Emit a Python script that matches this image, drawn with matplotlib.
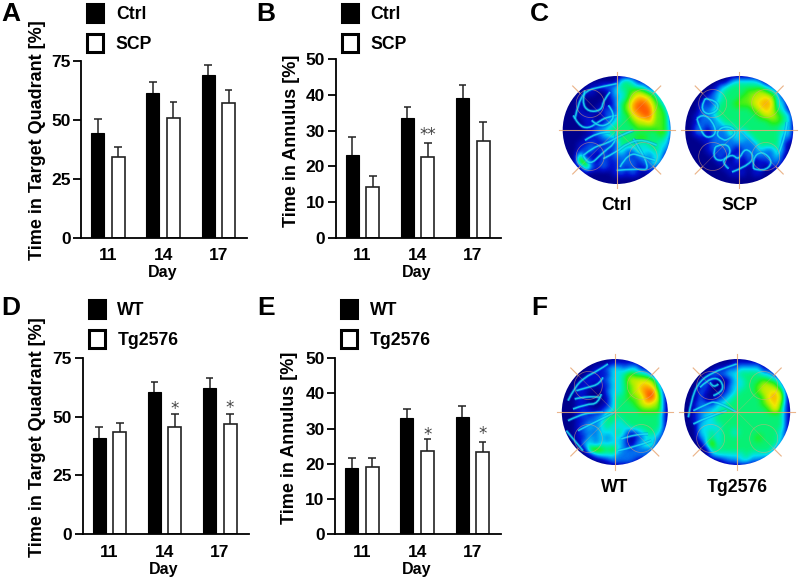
import matplotlib
matplotlib.use("Agg")
import matplotlib.pyplot as plt
import numpy as np
from matplotlib.colors import LinearSegmentedColormap
from matplotlib.patches import Circle, Patch, PathPatch
from matplotlib.path import Path

plt.rcParams['font.family'] = ['Liberation Sans', 'DejaVu Sans']

days = ['11', '14', '17']

a_ctrl = [44.4, 61.6, 69.0]
a_ctrl_top = [50.3, 66.3, 73.5]
a_scp = [34.4, 50.8, 57.0]
a_scp_top = [38.4, 57.7, 62.5]

b_ctrl = [23.3, 33.5, 39.0]
b_ctrl_top = [28.3, 36.7, 42.7]
b_scp = [14.2, 22.7, 27.0]
b_scp_top = [17.3, 26.5, 32.3]

d_wt = [40.9, 60.3, 62.2]
d_wt_top = [45.4, 64.5, 66.2]
d_tg = [43.4, 45.7, 46.7]
d_tg_top = [47.1, 50.9, 51.3]

e_wt = [18.8, 32.9, 33.4]
e_wt_top = [21.6, 35.6, 36.4]
e_tg = [19.2, 23.5, 23.2]
e_tg_top = [21.6, 26.9, 26.3]

# occupancy heat maps, one digit per cell (0 = none, 9 = most)
heat_ctrl = [
    "00000000000000000000",
    "00000000003431100000",
    "00000112224443311000",
    "00001100133456543210",
    "00010000123467764310",
    "00010001024578875420",
    "00010011214578885530",
    "00011101224467885540",
    "00001101234456675540",
    "00001122344445555541",
    "00000123444444444541",
    "00001112234445544431",
    "00011211214443344330",
    "00012212124224334320",
    "00050102122212323300",
    "00065112112221224200",
    "00005212112121122000",
    "00000000012121010000",
    "00000000000000000000",
    "00000000000000000000",
]
heat_scp = [
    "00000000000000000000",
    "00000000233332000000",
    "00000023444444320000",
    "00000234444556543000",
    "00002234445566763200",
    "00021244455567773300",
    "00022344444456764310",
    "00122344444445665430",
    "00122234444444455430",
    "00221323344444444330",
    "00220222432444444330",
    "00011222233244444220",
    "00001222222224444200",
    "00001212202223224200",
    "00000121021222223100",
    "00000011020201122100",
    "00000001101011011000",
    "00000000111011000000",
    "00000000000000000000",
    "00000000000000000000",
]
heat_wt = [
    "00000000000000000000",
    "00000000011111000000",
    "00000011233233110000",
    "00000111133454431000",
    "00001111233466665200",
    "00011101133456776310",
    "00011000233456788410",
    "00011000134455688510",
    "00011000134445676510",
    "00011101234444555510",
    "00012122444444444410",
    "00011223443444444410",
    "00012323433344444410",
    "00012223334312344310",
    "00011323233201233210",
    "00003323333202343100",
    "00000565453222222100",
    "00000023332222221000",
    "00000000122221000000",
    "00000000000000000000",
]
heat_tg = [
    "00000000000000000000",
    "00000000011111000000",
    "00000011223333110000",
    "00000222334444331000",
    "00002100133444544200",
    "00012000233445665310",
    "00021001234445667510",
    "00020012344444577610",
    "00122133444444567510",
    "00122334444444457410",
    "00123344444444444410",
    "00123344444444444410",
    "00033334444444444410",
    "00033434434444444310",
    "00023434444445444310",
    "00003634444444444200",
    "00000444444444442100",
    "00000233333433331000",
    "00000001223322100000",
    "00000000000000000000",
]

# swim traces (enlarged-crop units, three per pixel)
trails_ctrl = [
    [(45, 140), (55, 90), (80, 55), (120, 45), (170, 35)],
    [(75, 55), (65, 90), (85, 120), (125, 115), (130, 85), (150, 60)],
    [(40, 130), (55, 160), (85, 170), (115, 150), (140, 135), (170, 130)],
    [(145, 100), (165, 125), (150, 155), (115, 165), (95, 145)],
    [(70, 250), (85, 285), (130, 240), (170, 210), (170, 175)],
    [(70, 250), (100, 225), (140, 215), (180, 190), (220, 175)],
    [(75, 205), (110, 180), (150, 180)],
    [(170, 295), (230, 290), (270, 295), (240, 230), (220, 200)],
    [(130, 260), (170, 240), (200, 215), (250, 200), (290, 220)],
    [(180, 285), (205, 240), (250, 255), (285, 265)],
]
trails_scp = [
    [(45, 140), (55, 175), (75, 200), (105, 185), (90, 145), (60, 125), (45, 140)],
    [(70, 80), (105, 85), (110, 115), (75, 130), (55, 105), (70, 80)],
    [(100, 225), (130, 210), (150, 240), (120, 270), (90, 255), (100, 225)],
    [(140, 290), (115, 270), (150, 245), (170, 265), (190, 225), (220, 255), (190, 285), (150, 300)],
    [(215, 290), (245, 300), (275, 270), (240, 235), (210, 260), (215, 290)],
    [(130, 205), (165, 190), (150, 165), (115, 165), (100, 195), (130, 205)],
    [(290, 245), (312, 190), (315, 150)],
]
trails_wt = [
    [(30, 140), (50, 100), (80, 70), (120, 50), (150, 30)],
    [(55, 110), (90, 100), (125, 90), (135, 70)],
    [(50, 135), (90, 125), (125, 130)],
    [(45, 165), (85, 150), (120, 150), (130, 120)],
    [(30, 200), (60, 185), (100, 175), (135, 175)],
    [(25, 230), (50, 260), (75, 290)],
    [(60, 230), (90, 215), (120, 200), (170, 175)],
    [(180, 290), (230, 280), (280, 260)],
    [(190, 255), (230, 240), (270, 240)],
]
trails_tg = [
    [(25, 190), (35, 130), (60, 80), (100, 55), (140, 40), (170, 30)],
    [(60, 100), (80, 80), (110, 70), (130, 90), (125, 115), (100, 125)],
    [(90, 85), (100, 105), (115, 90)],
    [(40, 170), (80, 150), (110, 140), (170, 175)],
    [(40, 210), (90, 185), (140, 170)],
]

W, H = 800, 579
fig = plt.figure(figsize=(W / 100, H / 100), dpi=100)


def px_axes(left, top, right, bottom, **kw):
    return fig.add_axes([left / W, 1 - bottom / H, (right - left) / W, (bottom - top) / H], **kw)


def bar_panel(box, ymax, yticks, ylabel, labels, black, black_top, white, white_top,
              stars, star_y, legend_xy, label_x, label_y):
    left, top, right, bottom = box
    ax = px_axes(left, top, right, bottom)
    x = np.arange(3)
    w = 0.235
    off = 0.185
    ax.bar(x - off, black, w, color='black', edgecolor='black', linewidth=0.8)
    ax.bar(x + off, white, w, color='white', edgecolor='#222222', linewidth=1.2)
    for xs, vals, tops in ((x - off, black, black_top), (x + off, white, white_top)):
        for xi, v, t in zip(xs, vals, tops):
            ax.plot([xi, xi], [v, t], color='#222222', lw=1.1, solid_capstyle='butt', zorder=1)
            ax.plot([xi - 0.07, xi + 0.07], [t, t], color='#222222', lw=1.1, solid_capstyle='butt', zorder=1)
    ax.set_xlim(-0.49, 2.52)
    ax.set_ylim(0, ymax)
    ax.set_xticks(x, days)
    ax.set_yticks(yticks)
    ax.tick_params(axis='x', length=0, pad=7.5, labelsize=12.5)
    ax.tick_params(axis='y', length=6, width=1.3, pad=1.5, labelsize=12.5)
    for t in ax.get_xticklabels() + ax.get_yticklabels():
        t.set_fontweight('bold')
    for s in ('top', 'right'):
        ax.spines[s].set_visible(False)
    for s in ('left', 'bottom'):
        ax.spines[s].set_linewidth(1.3)
    ax.set_ylabel(ylabel, fontsize=13, fontweight='bold', va='center')
    ax.yaxis.set_label_coords((label_x - left) / (right - left), (bottom - label_y) / (bottom - top))
    ax.set_xlabel('Day', fontsize=11.5, fontweight='bold', va='center')
    ax.xaxis.set_label_coords(0.49, -35 / (bottom - top))
    for sx, st in zip(stars, star_y):
        ax.text(sx[0] + off, st, sx[1], ha='center', va='center', fontsize=12, color='#444444',
                fontfamily='DejaVu Sans', clip_on=False)
    handles = [Patch(facecolor='black', edgecolor='black', linewidth=2.2),
               Patch(facecolor='white', edgecolor='black', linewidth=2.2)]
    ax.legend(handles, labels, loc='upper left', frameon=False, prop={'size': 12.7, 'weight': 'bold'},
              bbox_to_anchor=((legend_xy[0] - left) / (right - left), (bottom - legend_xy[1]) / (bottom - top)),
              borderaxespad=0, borderpad=0, handlelength=0.92, handleheight=1.2,
              handletextpad=0.72, labelspacing=0.62)
    return ax


bar_panel((81, 61, 247, 238), 75, [0, 25, 50, 75], 'Time in Target Quadrant [%]', ['Ctrl', 'SCP'],
          a_ctrl, a_ctrl_top, a_scp, a_scp_top, [], [], (87, 4), 37, 140)
bar_panel((335.5, 59, 501.5, 238), 50, [0, 10, 20, 30, 40, 50], 'Time in Annulus [%]', ['Ctrl', 'SCP'],
          b_ctrl, b_ctrl_top, b_scp, b_scp_top, [(1, '**')], [28.7], (341.5, 4), 291, 141)
bar_panel((82.5, 357.7, 248.5, 534.3), 75, [0, 25, 50, 75], 'Time in Target Quadrant [%]', ['WT', 'Tg2576'],
          d_wt, d_wt_top, d_tg, d_tg_top, [(1, '*'), (2, '*')], [53.1, 53.6], (88.5, 300), 38, 437)
bar_panel((335, 358, 501, 534.3), 50, [0, 10, 20, 30, 40, 50], 'Time in Annulus [%]', ['WT', 'Tg2576'],
          e_wt, e_wt_top, e_tg, e_tg_top, [(1, '*'), (2, '*')], [28.3, 28.5], (341, 300), 290, 438)

track_cmap = LinearSegmentedColormap.from_list('track', [
    (0.00, '#00008c'), (0.10, '#0010d0'), (0.20, '#0070f0'), (0.30, '#00e0f0'),
    (0.38, '#00f090'), (0.46, '#20f020'), (0.56, '#a8f000'), (0.64, '#f0e800'),
    (0.72, '#ffa000'), (0.82, '#ff4800'), (1.00, '#d00000')])


def smooth_path(pts):
    """Quadratic curve path that uses the read points as control points."""
    verts = [pts[0]]
    codes = [Path.MOVETO]
    for i in range(1, len(pts) - 1):
        end = pts[i + 1] if i == len(pts) - 2 else (pts[i] + pts[i + 1]) / 2
        verts += [pts[i], end]
        codes += [Path.CURVE3, Path.CURVE3]
    if len(pts) == 2:
        verts.append(pts[1])
        codes.append(Path.LINETO)
    return Path(verts, codes)


def heat_panel(crop, centre, radius, rows, trails, label):
    cl, ct = crop
    ax = px_axes(cl, ct, cl + 116, ct + 116)
    ax.set_xlim(0, 116)
    ax.set_ylim(116, 0)
    ax.axis('off')
    grid = np.array([[int(c) for c in r] for r in rows]) / 10
    im = ax.imshow(grid, extent=(0, 116, 116, 0), cmap=track_cmap, vmin=0, vmax=1,
                   interpolation='bicubic', aspect='auto')
    cx, cy = centre
    disc = Circle((cx, cy), radius, transform=ax.transData)
    im.set_clip_path(disc)
    for tr in trails:
        path = smooth_path(np.array(tr, dtype=float) / 3)
        for colour, lw, alpha in (('#0080f0', 2.4, 0.45), ('#20e8f0', 1.1, 0.8)):
            patch = PathPatch(path, fill=False, ec=colour, lw=lw, alpha=alpha)
            ax.add_patch(patch)
            patch.set_clip_path(disc)
    col = '#e8a878'
    for dx, dy in ((1, 0), (0, 1)):
        ax.plot([cx - 58 * dx, cx + 58 * dx], [cy - 58 * dy, cy + 58 * dy], color=col, lw=0.8,
                alpha=0.85, clip_on=False)
    for s in (1, -1):
        ax.plot([cx - 44 * s, cx + 44 * s], [cy - 44, cy + 44], color=col, lw=0.5, alpha=0.35, clip_on=False)
        for e in (1, -1):
            ax.plot([cx + e * 37 * s, cx + e * 44 * s], [cy + e * 37, cy + e * 44], color=col, lw=0.8,
                    alpha=0.8, clip_on=False)
    for sx in (1, -1):
        for sy in (1, -1):
            ax.add_patch(Circle((cx + sx * 26.5, cy + sy * 26.5), 14, fill=False, ec=col, lw=0.5, alpha=0.6))
    fig.text((cl + cx) / W, 1 - (ct + cy + 75.5) / H, label, ha='center', va='center',
             fontsize=12.7, fontweight='bold')


heat_panel((560, 72), (56.7, 58), 54, heat_ctrl, trails_ctrl, 'Ctrl')
heat_panel((682, 72), (57.2, 58), 54, heat_scp, trails_scp, 'SCP')
heat_panel((558, 354), (56.8, 58), 53, heat_wt, trails_wt, 'WT')
heat_panel((680, 354), (57.2, 58), 53, heat_tg, trails_tg, 'Tg2576')

for letter, lx, ly in (('A', 11, 14), ('B', 266, 14), ('C', 539, 14),
                       ('D', 11, 308), ('E', 266, 308), ('F', 539, 308)):
    fig.text(lx / W, 1 - ly / H, letter, ha='center', va='center', fontsize=19, fontweight='bold')

fig.savefig('out.png', dpi=100)
